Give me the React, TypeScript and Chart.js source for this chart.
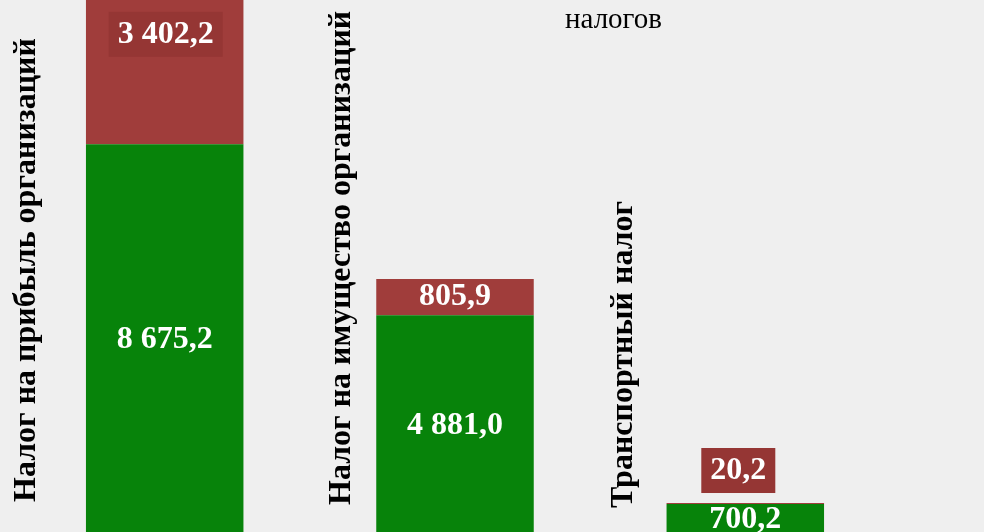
import React, { useEffect, useRef } from "react";
import { Chart, registerables } from "chart.js";

Chart.register(...registerables);

// ---- data ----
const categories = [
  "Налог на прибыль организаций",
  "Налог на имущество организаций",
  "Транспортный налог",
];
const baseValues = [8675.2, 4881.0, 700.2];
const topValues = [3402.2, 805.9, 20.2];
const titleFragment = "налогов";

// ---- style / layout ----
const W = 984;
const H = 532;
const GREEN = "#07830a";
const RED = "#a03d3b";
const RED_BOX = "#953634";
const BG = "#efefef";
const SERIF = '"Liberation Serif", "Times New Roman", serif';
const topLabelMode = ["insideEnd", "center", "outsideEnd"];
const topLabelBox = [true, false, true];
const topLabelDx = [1, 0, -7];
const catLabelDx = [-51, -26, -34.7];
const catLabelBottom = [502, 505, 508];

function fmt(v: number): string {
  const [i, d] = v.toFixed(1).split(".");
  const withSpaces = i.replace(/\B(?=(\d{3})+(?!\d))/g, " ");
  return withSpaces + "," + d;
}

const customPlugin = {
  id: "customDecor",
  beforeDraw(chart: any) {
    const ctx = chart.ctx;
    ctx.save();
    ctx.fillStyle = BG;
    ctx.fillRect(0, 0, chart.width, chart.height);
    ctx.restore();
  },
  afterDatasetsDraw(chart: any) {
    const ctx: CanvasRenderingContext2D = chart.ctx;
    ctx.save();
    // title fragment
    ctx.fillStyle = "#000";
    ctx.font = `29px ${SERIF}`;
    ctx.textAlign = "left";
    ctx.textBaseline = "alphabetic";
    ctx.fillText(titleFragment, 565, 28);

    // category labels (rotated)
    const meta0 = chart.getDatasetMeta(0);
    ctx.font = `bold 32px ${SERIF}`;
    meta0.data.forEach((bar: any, i: number) => {
      const p = bar.getProps(["x", "width"], true);
      const left = p.x - p.width / 2;
      ctx.save();
      ctx.translate(left + catLabelDx[i], catLabelBottom[i]);
      ctx.rotate(-Math.PI / 2);
      ctx.textAlign = "left";
      ctx.textBaseline = "alphabetic";
      ctx.fillStyle = "#000";
      ctx.fillText(categories[i], 0, 0);
      ctx.restore();
    });

    // value labels
    ctx.font = `bold 32px ${SERIF}`;
    ctx.textAlign = "center";
    ctx.textBaseline = "middle";
    chart.data.datasets.forEach((ds: any, di: number) => {
      const meta = chart.getDatasetMeta(di);
      meta.data.forEach((bar: any, i: number) => {
        const p = bar.getProps(["x", "y", "base"], true);
        const text = fmt(ds.data[i]);
        let cx = p.x;
        let cy = (p.y + p.base) / 2;
        let box = false;
        if (di === 1) {
          const mode = topLabelMode[i];
          if (mode === "insideEnd") cy = p.y + 21 + 22.5;
          else if (mode === "outsideEnd") cy = p.y - 10 - 22.5;
          box = topLabelBox[i];
          cx += topLabelDx[i];
        }
        if (box) {
          const tw = ctx.measureText(text).width;
          ctx.fillStyle = RED_BOX;
          ctx.fillRect(cx - tw / 2 - 9, cy - 22.5, tw + 18, 45);
        }
        ctx.fillStyle = "#ffffff";
        ctx.fillText(text, cx, cy);
      });
    });
    ctx.restore();
  },
};

export default function App() {
  const ref = useRef<HTMLCanvasElement | null>(null);
  useEffect(() => {
    if (!ref.current) return;
    const chart = new Chart(ref.current, {
      type: "bar",
      data: {
        labels: categories,
        datasets: [
          {
            data: baseValues,
            backgroundColor: GREEN,
            borderWidth: 0,
            barPercentage: 0.5425,
            categoryPercentage: 1,
          },
          {
            data: topValues,
            backgroundColor: RED,
            borderWidth: 0,
            barPercentage: 0.5425,
            categoryPercentage: 1,
          },
        ],
      },
      options: {
        responsive: false,
        animation: false,
        layout: { padding: { left: 19.55, right: 93.55, top: 0, bottom: 0 } },
        plugins: {
          legend: { display: false },
          title: { display: false },
          tooltip: { enabled: false },
        },
        scales: {
          x: { stacked: true, display: false, offset: true },
          y: { stacked: true, display: false, min: 77.6, max: 11873.6 },
        },
      },
      plugins: [customPlugin],
    });
    return () => chart.destroy();
  }, []);
  return (
    <div style={{ position: "fixed", left: 0, top: 0, width: W, height: H, overflow: "hidden", background: BG }}>
      <canvas ref={ref} width={W} height={H} style={{ display: "block", width: W, height: H }} />
    </div>
  );
}
